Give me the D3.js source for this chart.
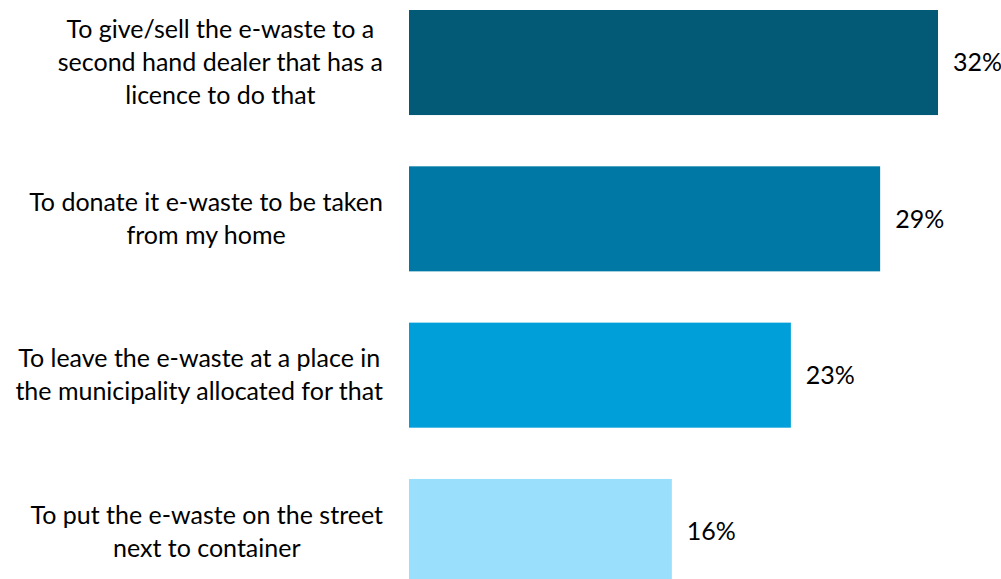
<!DOCTYPE html>
<html>
<head>
    <script src="https://cdn.jsdelivr.net/npm/d3@7"></script>
    <style>
        body { margin: 0; background: #fff; }
        svg { display: block; }
        text { font-family: Lato, "Open Sans", sans-serif; fill: #000; }
    </style>
</head>
<body>
    <svg width="1001" height="579"></svg>
    <script>
        // categories, each split into the lines shown in the chart
        const categories = [
            ["To give/sell the e-waste to a", "second hand dealer that has a", "licence to do that"],
            ["To donate it e-waste to be taken", "from my home"],
            ["To leave the e-waste at a place in", "the municipality allocated for that"],
            ["To put the e-waste on the street", "next to container"]
        ];
        // bar lengths (labels are rounded)
        const values = [32, 28.5, 23.1, 15.9];
        const colors = ["#025a77", "#0078a5", "#009fd9", "#9ae0fc"];

        const svg = d3.select("svg");
        const fontSize = 25;
        const lineH = 33;
        const labelRight = 383;

        const x = d3.scaleLinear()
            .domain([0, 32])
            .range([409, 938]);

        const y = d3.scaleBand()
            .domain(d3.range(categories.length))
            .range([10, 584])
            .paddingInner(0.328)
            .paddingOuter(0);

        svg.selectAll("rect.bar")
            .data(values)
            .enter()
            .append("rect")
                .attr("class", "bar")
                .attr("x", x(0))
                .attr("y", function(d, i) { return y(i); })
                .attr("width", function(d) { return x(d) - x(0); })
                .attr("height", y.bandwidth())
                .style("fill", function(d, i) { return colors[i]; });

        // value labels
        svg.selectAll("text.val")
            .data(values)
            .enter()
            .append("text")
                .attr("class", "val")
                .attr("x", function(d) { return x(d) + 15; })
                .attr("y", function(d, i) { return y(i) + y.bandwidth() / 2; })
                .attr("dy", "0.35em")
                .style("font-size", fontSize + "px")
                .text(function(d) { return Math.round(d) + "%"; });

        // category labels: lines centred inside a block that is right-aligned
        categories.forEach(function(lines, i) {
            const g = svg.append("g");
            const mid = y(i) + y.bandwidth() / 2;
            const top = mid - (lines.length - 1) * lineH / 2;
            const t = g.selectAll("text")
                .data(lines)
                .enter()
                .append("text")
                    .attr("y", function(d, j) { return top + j * lineH; })
                    .attr("dy", "0.35em")
                    .attr("text-anchor", "middle")
                    .style("font-size", fontSize + "px")
                    .text(function(d) { return d; });
            let maxW = 0;
            t.each(function() { maxW = Math.max(maxW, this.getComputedTextLength()); });
            t.attr("x", labelRight - maxW / 2);
        });
    </script>
</body>
</html>
